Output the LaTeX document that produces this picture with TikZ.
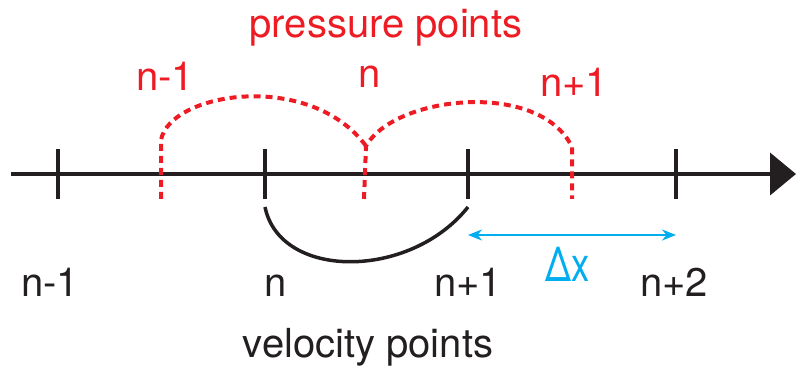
\documentclass[tikz,border=0pt]{standalone}
\usepackage{fontspec}
\setmainfont{TeX Gyre Heros}
\usetikzlibrary{arrows.meta,positioning}
\definecolor{ink}{RGB}{35,31,32}
\definecolor{pred}{RGB}{237,28,36}
\definecolor{dxblue}{RGB}{0,174,239}
\tikzset{
  tengely/.style={ink,line width=4pt,-{Triangle[length=26pt,width=42pt]}},
  tik/.style={ink,line width=4pt},
  nyom/.style={pred,line width=4pt,dash pattern=on 7pt off 5pt},
  seb/.style={ink,line width=3.5pt},
  dx/.style={dxblue,line width=2pt,{Stealth[length=14pt,width=11pt]}-{Stealth[length=14pt,width=11pt]}},
  lab/.style={anchor=base,inner sep=0pt,font=\fontsize{40}{46}\selectfont},
}
\begin{document}
\begin{tikzpicture}[x=1pt,y=-1pt]
  \useasboundingbox (0,0) rectangle (796,366);
  % axis and grid
  \coordinate (a0) at (11,174); \coordinate (a1) at (796,174);
  \draw[tengely] (a0) -- (a1);
  \foreach \x in {58,265,468,676} \draw[tik] (\x,149) -- (\x,199);
  % pressure points
  \coordinate (p1b) at (161,199); \coordinate (p1t) at (161,140);
  \coordinate (p2b) at (364,199); \coordinate (p2t) at (366,146);
  \coordinate (p3b) at (572,199); \coordinate (p3t) at (572,147);
  \draw[nyom] (p1b) -- (p1t) .. controls (170,92) and (310,70) .. (p2t);
  \draw[nyom] (p2b) -- (p2t) .. controls (395,95) and (540,80) .. (p3t) -- (p3b);
  % velocity link
  \coordinate (v2) at (265,207); \coordinate (v3) at (468,207);
  \draw[seb] (v2) .. controls (280,280) and (410,280) .. (v3);
  % spacing
  \coordinate (d0) at (468,235); \coordinate (d1) at (676,235);
  \draw[dx] (d0) -- (d1);
  \node[lab,text=dxblue,font=\fontsize{48}{52}\selectfont] (dxl) at (568,282) {\scalebox{0.76}[1]{Δx}};
  % labels
  \node[lab,text=pred] (pp) at (386,38) {pressure points};
  \node[lab,text=pred] (pl1) at (165,91) {n-1};
  \node[lab,text=pred] (pl2) at (370,88) {n};
  \node[lab,text=pred] (pl3) at (574,97) {n+1};
  \node[lab,text=ink] (vl1) at (50,297) {n-1};
  \node[lab,text=ink] (vl2) at (276,297) {n};
  \node[lab,text=ink] (vl3) at (468,297) {n+1};
  \node[lab,text=ink] (vl4) at (674,297) {n+2};
  \node[lab,text=ink] (vp) at (368,357) {velocity points};
\end{tikzpicture}
\end{document}
